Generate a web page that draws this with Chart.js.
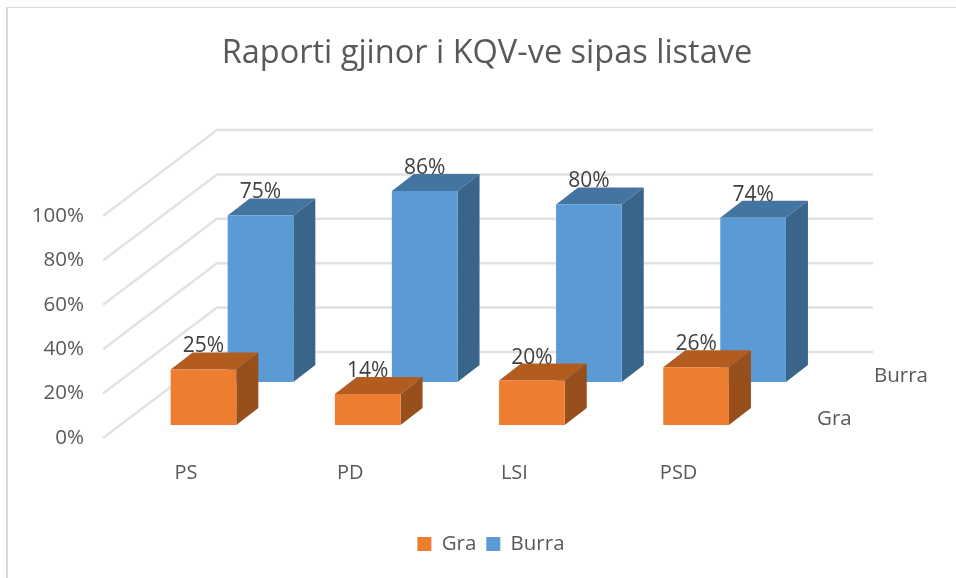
<!DOCTYPE html>
<html>
<head>
<meta charset="utf-8">
<style>
html,body{margin:0;padding:0;background:#fff;}
#wrap{position:relative;width:956px;height:578px;}
#frame{position:absolute;left:6px;top:7px;width:950px;height:571px;box-sizing:border-box;border-left:2px solid #d9d9d9;border-top:1px solid #d9d9d9;}
canvas{position:absolute;left:0;top:0;}
</style>
<script src="https://cdn.jsdelivr.net/npm/chart.js@4/dist/chart.umd.min.js"></script>
</head>
<body>
<div id="wrap"><div id="frame"></div><canvas id="c" width="956" height="578"></canvas></div>
<script>
const categories = ["PS", "PD", "LSI", "PSD"];
const graValues = [25, 14, 20, 26];
const burraValues = [75, 86, 80, 74];
const tickValues = [0, 20, 40, 60, 80, 100];
const chartTitle = "Raporti gjinor i KQV-ve sipas listave";

const FONT = '"Open Sans", sans-serif';
const depth = {dx: 22, dy: -17};
const seriesStyle = {
  0: {tx: 17.5, ty: -13, top: '#B35C1F', side: '#97501B', nameX: 817, nameY: 419},
  1: {tx: 74.5, ty: -56, top: '#4474A0', side: '#39658A', nameX: 874, nameY: 376}
};
const wall = {x0: 103, x1: 217, dy: -86, xEnd: 873};

const plugin3d = {
  id: 'plugin3d',
  afterLayout(chart) {
    chart.titleBlock.left += 106.6; chart.titleBlock.right += 106.6;
    chart.legend.left += 110.6; chart.legend.right += 110.6;
  },
  beforeDatasetsDraw(chart) {
    const ctx = chart.ctx, y = chart.scales.y;
    ctx.save();
    ctx.strokeStyle = '#e2e2e2';
    ctx.lineWidth = 2.5;
    tickValues.forEach(v => {
      const p = y.getPixelForValue(v);
      ctx.beginPath();
      ctx.moveTo(wall.x0, p);
      ctx.lineTo(wall.x1, p + wall.dy);
      ctx.lineTo(wall.xEnd, p + wall.dy);
      ctx.stroke();
    });
    ctx.restore();
  },
  beforeDatasetDraw(chart, args) {
    const ctx = chart.ctx, s = seriesStyle[args.index];
    const meta = chart.getDatasetMeta(args.index);
    ctx.save();
    ctx.translate(s.tx, s.ty);
    meta.data.forEach(el => {
      const l = el.x - el.width / 2, r = el.x + el.width / 2;
      ctx.fillStyle = s.top;
      ctx.beginPath();
      ctx.moveTo(l, el.y); ctx.lineTo(l + depth.dx, el.y + depth.dy);
      ctx.lineTo(r + depth.dx, el.y + depth.dy); ctx.lineTo(r, el.y);
      ctx.closePath(); ctx.fill();
      ctx.fillStyle = s.side;
      ctx.beginPath();
      ctx.moveTo(r, el.y); ctx.lineTo(r + depth.dx, el.y + depth.dy);
      ctx.lineTo(r + depth.dx, el.base + depth.dy); ctx.lineTo(r, el.base);
      ctx.closePath(); ctx.fill();
    });
  },
  afterDatasetDraw(chart) { chart.ctx.restore(); },
  afterDatasetsDraw(chart) {
    const ctx = chart.ctx;
    ctx.save();
    ctx.textAlign = 'center';
    ctx.textBaseline = 'middle';
    ctx.fillStyle = '#404040';
    chart.data.datasets.forEach((ds, i) => {
      const s = seriesStyle[i];
      ctx.font = '21px ' + FONT;
      chart.getDatasetMeta(i).data.forEach((el, k) => {
        ctx.fillText(ds.data[k] + '%', el.x + s.tx, el.y + s.ty - 23);
      });
      ctx.save();
      ctx.textAlign = 'left';
      ctx.fillStyle = '#595959';
      ctx.font = '20.5px ' + FONT;
      ctx.fillText(ds.label, s.nameX, s.nameY);
      ctx.restore();
    });
    ctx.restore();
  }
};

new Chart(document.getElementById('c'), {
  type: 'bar',
  data: {
    labels: categories,
    datasets: [
      {label: 'Gra', data: graValues, backgroundColor: '#ED7D31', grouped: false},
      {label: 'Burra', data: burraValues, backgroundColor: '#5B9BD5', grouped: false}
    ]
  },
  plugins: [plugin3d],
  options: {
    responsive: false,
    animation: false,
    devicePixelRatio: 1,
    layout: {padding: {left: 0, right: 195.3, top: 0, bottom: 13.75}},
    datasets: {bar: {categoryPercentage: 1, barPercentage: 0.4}},
    plugins: {
      tooltip: {enabled: false},
      title: {
        display: true, text: chartTitle, color: '#595959',
        font: {family: FONT, size: 32.5, weight: 'normal', lineHeight: 1.2},
        padding: {top: 34, bottom: 143}
      },
      legend: {
        position: 'bottom',
        labels: {boxWidth: 14, boxHeight: 14, padding: 10, color: '#595959',
                 font: {family: FONT, size: 20.5}}
      }
    },
    scales: {
      x: {
        grid: {display: false},
        border: {display: false},
        ticks: {color: '#595959', font: {family: FONT, size: 20}, padding: 15, maxRotation: 0},
        afterFit(s) { s.height = 85.75; }
      },
      y: {
        min: 0, max: 100,
        grid: {display: false, drawTicks: false},
        border: {display: false},
        afterBuildTicks(s) { s.ticks = tickValues.map(v => ({value: v})); },
        ticks: {color: '#595959', font: {family: FONT, size: 20.5}, padding: 20, labelOffset: 0,
                callback: v => v + '%'},
        afterFit(s) { s.width = 103.9; }
      }
    }
  }
});
</script>
</body>
</html>
